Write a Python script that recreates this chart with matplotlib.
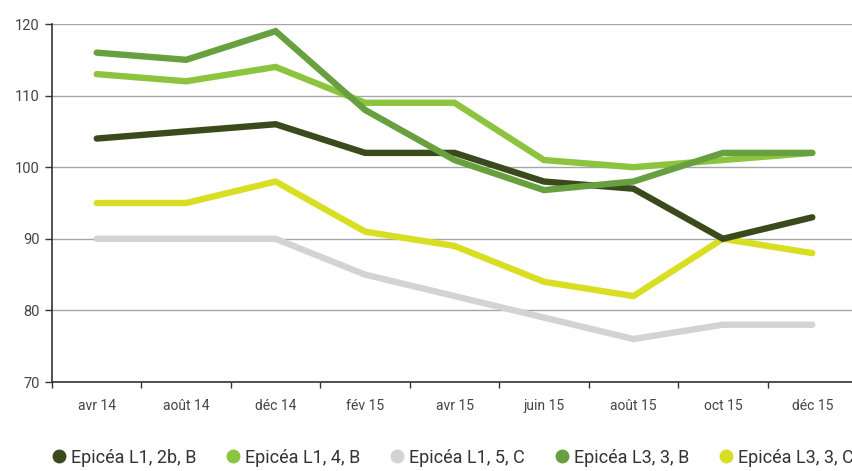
import matplotlib
matplotlib.use("Agg")
import matplotlib.pyplot as plt
from matplotlib.lines import Line2D

plt.rcParams["font.family"] = ["Roboto", "DejaVu Sans"]

# données
mois = ["avr 14", "août 14", "déc 14", "fév 15", "avr 15", "juin 15", "août 15", "oct 15", "déc 15"]
l1_2b_b = [104, 105, 106, 102, 102, 98, 97, 90, 93]
l1_4_b = [113, 112, 114, 109, 109, 101, 100, 101, 102]
l1_5_c = [90, 90, 90, 85, 82, 79, 76, 78, 78]
l3_3_b = [116, 115, 119, 108, 101, 96.8, 98, 102, 102]
l3_3_c = [95, 95, 98, 91, 89, 84, 82, 90, 88]

series = [
    ("Epicéa L1, 2b, B", l1_2b_b, "#3b4a1d"),
    ("Epicéa L1, 4, B", l1_4_b, "#8cc43f"),
    ("Epicéa L1, 5, C", l1_5_c, "#d2d3d5"),
    ("Epicéa L3, 3, B", l3_3_b, "#68a040"),
    ("Epicéa L3, 3, C", l3_3_c, "#d8df22"),
]

fig = plt.figure(figsize=(8.52, 4.71), dpi=100)
ax = fig.add_axes([52 / 852, 89 / 471, 805 / 852, 358 / 471])

x = list(range(len(mois)))
# ordre de tracé : gris en dessous
order = [2, 4, 0, 1, 3]
for i in order:
    label, vals, col = series[i]
    ax.plot(x, vals, color=col, linewidth=4.6, solid_capstyle="round",
            solid_joinstyle="miter", zorder=3)

ax.set_xlim(-0.5, len(mois) - 0.5)
ax.set_ylim(70, 120)
ax.set_yticks(range(70, 121, 10))
ax.set_xticks(x)
ax.set_xticklabels(mois)
ax.set_xticks([i - 0.5 for i in range(0, len(mois))], minor=True)
ax.tick_params(axis="x", which="major", length=0, pad=12, labelsize=10, labelcolor="#444444")
ax.tick_params(axis="x", which="minor", length=4, width=1, color="#333333", direction="out")
ax.tick_params(axis="y", length=5, width=1, color="#333333", labelsize=10.5,
               labelcolor="#444444", pad=4)
ax.grid(True, axis="y", color="#a6a6a6", linewidth=1, zorder=0)
for s in ["top", "right"]:
    ax.spines[s].set_visible(False)
for s in ["left", "bottom"]:
    ax.spines[s].set_color("#333333")
    ax.spines[s].set_linewidth(1.2)

handles = [Line2D([], [], marker="o", linestyle="none", markersize=9,
                  markerfacecolor=col, markeredgecolor=col) for _, _, col in series]
fig.legend(handles, [s[0] for s in series], loc="lower left",
           bbox_to_anchor=(0.04, -0.025), ncol=5, frameon=False,
           fontsize=13, labelcolor="#333333", handletextpad=0.15,
           columnspacing=1.55, handlelength=1.0)

fig.savefig("out.png", dpi=100)
